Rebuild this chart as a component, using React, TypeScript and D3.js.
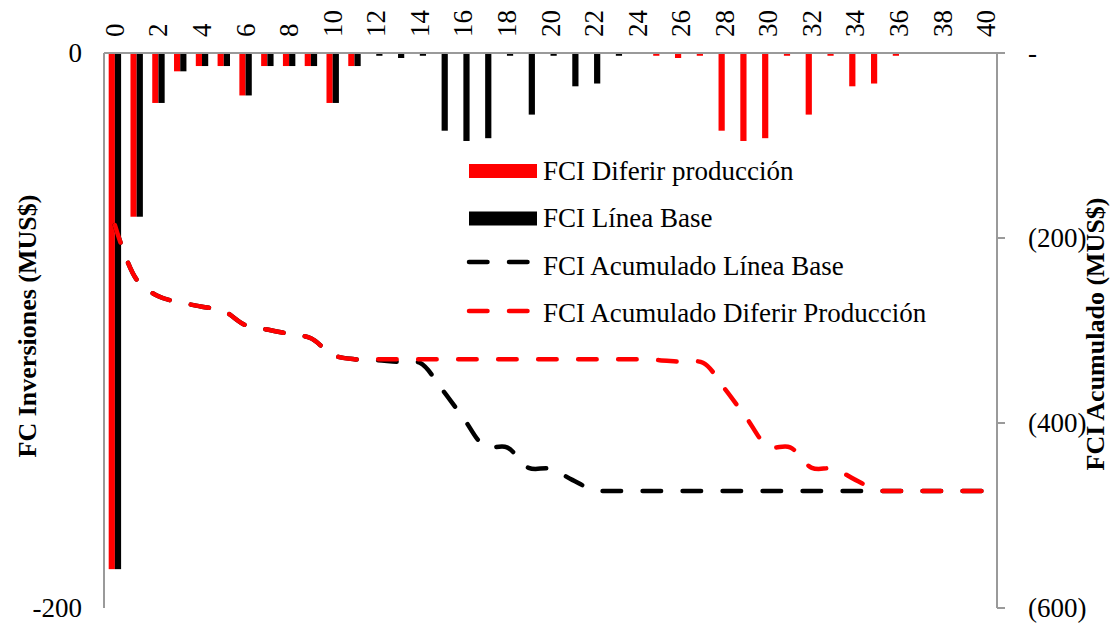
import React from "react";
import * as d3 from "d3";

const categories: number[] = Array.from({ length: 41 }, (_, i) => i);
const tickLabels: number[] = [0, 2, 4, 6, 8, 10, 12, 14, 16, 18, 20, 22, 24, 26, 28, 30, 32, 34, 36, 38, 40];

// FCI Diferir producción (MUS$)
const fciDiferir: number[] = [
  -186, -59, -18, -6.6, -4.7, -4.7, -15.3, -4.7, -4.7, -4.7, -18, -4.7,
  0, 0, 0, 0, 0, 0, 0, 0, 0, 0, 0, 0, 0,
  -1, -1.8, -1, -28, -31.7, -30.7, -1, -22.2, -1, -12, -11, -1,
  0, 0, 0, 0,
];
// FCI Línea Base (MUS$)
const fciBase: number[] = [
  -186, -59, -18, -6.6, -4.7, -4.7, -15.3, -4.7, -4.7, -4.7, -18, -4.7,
  -1, -1.8, -1, -28, -31.7, -30.7, -1, -22.2, -1, -12, -11, -1,
  0, 0, 0, 0, 0, 0, 0, 0, 0, 0, 0, 0, 0, 0, 0, 0, 0,
];
// FCI Acumulado Línea Base (MUS$)
const acumBase: number[] = [
  -186, -245, -263, -269.6, -274.3, -279, -294.3, -299, -303.7, -308.4, -326.4, -331.1,
  -332.1, -333.9, -334.9, -362.9, -394.6, -425.3, -426.3, -448.5, -449.5, -461.5, -472.5, -473.5,
  -473.5, -473.5, -473.5, -473.5, -473.5, -473.5, -473.5, -473.5, -473.5, -473.5, -473.5, -473.5,
  -473.5, -473.5, -473.5, -473.5, -473.5,
];
// FCI Acumulado Diferir Producción (MUS$)
const acumDiferir: number[] = [
  -186, -245, -263, -269.6, -274.3, -279, -294.3, -299, -303.7, -308.4, -326.4, -331.1,
  -331.1, -331.1, -331.1, -331.1, -331.1, -331.1, -331.1, -331.1, -331.1, -331.1, -331.1, -331.1, -331.1,
  -332.1, -333.9, -334.9, -362.9, -394.6, -425.3, -426.3, -448.5, -449.5, -461.5, -472.5, -473.5,
  -473.5, -473.5, -473.5, -473.5,
];
const leftTicks: number[] = [0, -200];
const rightTicks: number[] = [0, -200, -400, -600];

const legendItems = [
  { label: "FCI Diferir producción", kind: "bar", color: "#FF0000" },
  { label: "FCI Línea Base", kind: "bar", color: "#000000" },
  { label: "FCI Acumulado Línea Base", kind: "line", color: "#000000" },
  { label: "FCI Acumulado Diferir Producción", kind: "line", color: "#FF0000" },
];

const FONT = "'Liberation Serif', 'Times New Roman', serif";
const AXIS = "#9a9a9a";
const FS = 27;

export default function App() {
  const W = 1112, H = 623;
  const left = 104, right = 997, top = 53, bottom = 608;

  const x = d3.scaleBand<number>().domain(categories).range([left, right]).padding(0);
  const yL = d3.scaleLinear().domain([-200, 0]).range([bottom, top]);
  const yR = d3.scaleLinear().domain([-600, 0]).range([bottom, top]);
  const bw = x.bandwidth() * 0.285;
  const cx = (c: number) => (x(c) as number) + x.bandwidth() / 2;

  const line = d3
    .line<number>()
    .x((_, i) => cx(categories[i]))
    .y((d) => yR(d))
    .curve(d3.curveCatmullRom.alpha(0.5));

  const fmtR = (v: number) => (v === 0 ? "-" : `(${Math.abs(v)})`);
  const dash = "18.5 21.5";
  const lw = 4.5;

  return (
    <svg width={W} height={H} style={{ position: "absolute", left: 0, top: 0, background: "#fff" }} fontFamily={FONT}>
      {/* bars */}
      {categories.map((c, i) => (
        <g key={"b" + c}>
          <rect x={cx(c) - bw} y={yL(0)} width={bw} height={yL(fciDiferir[i]) - yL(0)} fill="#FF0000" />
          <rect x={cx(c)} y={yL(0)} width={bw} height={yL(fciBase[i]) - yL(0)} fill="#000000" />
        </g>
      ))}

      {/* axes */}
      <line x1={left} x2={left} y1={top} y2={bottom} stroke={AXIS} strokeWidth={2} />
      <line x1={left} x2={right} y1={top} y2={top} stroke={AXIS} strokeWidth={2} />
      <line x1={right} x2={right} y1={top} y2={bottom} stroke={AXIS} strokeWidth={2} />
      {rightTicks.map((t) => (
        <g key={"rt" + t}>
          <line x1={right} x2={right + 8} y1={yR(t)} y2={yR(t)} stroke={AXIS} strokeWidth={2} />
          <text x={1028} y={yR(t)} dominantBaseline="central" fontSize={FS} fill="#000">
            {fmtR(t)}
          </text>
        </g>
      ))}
      {leftTicks.map((t) => (
        <text key={"lt" + t} x={82} y={yL(t)} dominantBaseline="central" textAnchor="end" fontSize={FS} fill="#000">
          {t}
        </text>
      ))}
      {tickLabels.map((t) => (
        <text
          key={"tt" + t}
          transform={`translate(${cx(t)},37) rotate(-90)`}
          dominantBaseline="central"
          textAnchor="start"
          fontSize={FS}
          fill="#000"
        >
          {t}
        </text>
      ))}

      {/* cumulative lines */}
      <path d={line(acumBase) || ""} fill="none" stroke="#000" strokeWidth={lw} strokeDasharray={dash} strokeLinecap="round" />
      <path d={line(acumDiferir) || ""} fill="none" stroke="#FF0000" strokeWidth={lw} strokeDasharray={dash} strokeLinecap="round" />

      {/* axis titles */}
      <text transform="translate(36,326) rotate(-90)" textAnchor="middle" fontSize={26} fontWeight="bold" fill="#000">
        FC Inversiones (MUS$)
      </text>
      <text transform="translate(1104,334) rotate(-90)" textAnchor="middle" fontSize={26} fontWeight="bold" fill="#000">
        FCI Acumulado (MUS$)
      </text>

      {/* legend */}
      {legendItems.map((it, i) => {
        const yc = 171 + i * 47.5;
        return (
          <g key={"lg" + i}>
            {it.kind === "bar" ? (
              <rect x={469} y={yc - 7} width={68} height={14} fill={it.color} />
            ) : (
              <line x1={469} x2={530} y1={yc - 4 + (i === 3 ? 1.5 : 0)} y2={yc - 4 + (i === 3 ? 1.5 : 0)} stroke={it.color} strokeWidth={lw} strokeDasharray={dash} strokeLinecap="round" />
            )}
            <text x={543} y={yc + 8.5} fontSize={FS} fill="#000">
              {it.label}
            </text>
          </g>
        );
      })}
    </svg>
  );
}
